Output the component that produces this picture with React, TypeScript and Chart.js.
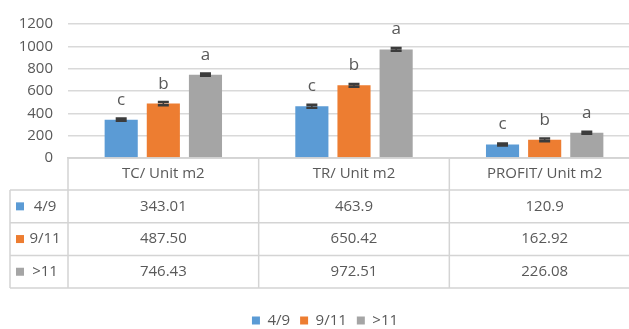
import React, { useEffect, useRef } from "react";
import { Chart, registerables } from "chart.js";

Chart.register(...registerables);

const categories = ["TC/ Unit m2", "TR/ Unit m2", "PROFIT/ Unit m2"];
const seriesNames = ["4/9", "9/11", ">11"];
const text49 = ["343.01", "463.9", "120.9"];
const text911 = ["487.50", "650.42", "162.92"];
const text11 = ["746.43", "972.51", "226.08"];
const err49 = [10, 14, 8];
const err911 = [14, 12, 12];
const err11 = [10, 12, 8];
const letters49 = ["c", "c", "c"];
const letters911 = ["b", "b", "b"];
const letters11 = ["a", "a", "a"];
const yMin = 0;
const yMax = 1200;
const yStep = 200;

const colors = ["#5B9BD5", "#ED7D31", "#A5A5A5"];
const FONT = "'Open Sans', sans-serif";
const TEXT = "#595959";
const LINE = "#d4d4d4";

const tableTexts = [text49, text911, text11];
const errors = [err49, err911, err11];
const letters = [letters49, letters911, letters11];

const overlay = {
  id: "overlay",
  afterLayout(chart: any) {
    const lg = chart.legend;
    if (lg) {
      lg.top += 9;
      lg.bottom += 9;
    }
  },
  afterDatasetsDraw(chart: any) {
    const ctx = chart.ctx;
    const ys = chart.scales.y;
    ctx.save();
    chart.data.datasets.forEach((ds: any, i: number) => {
      const meta = chart.getDatasetMeta(i);
      meta.data.forEach((bar: any, j: number) => {
        const v = ds.data[j];
        const e = errors[i][j];
        const x = bar.x;
        const yT = ys.getPixelForValue(v + e);
        const yB = ys.getPixelForValue(v - e);
        ctx.strokeStyle = "#3c3c3c";
        ctx.lineWidth = 1.5;
        ctx.beginPath();
        ctx.moveTo(x, yT);
        ctx.lineTo(x, yB);
        ctx.stroke();
        ctx.lineWidth = 2.5;
        ctx.beginPath();
        ctx.moveTo(x - 5.5, yT);
        ctx.lineTo(x + 5.5, yT);
        ctx.moveTo(x - 5.5, yB);
        ctx.lineTo(x + 5.5, yB);
        ctx.stroke();
        ctx.fillStyle = TEXT;
        ctx.font = `17px ${FONT}`;
        ctx.textAlign = "center";
        ctx.textBaseline = "alphabetic";
        ctx.fillText(letters[i][j], x, ys.getPixelForValue(v) - 15);
      });
    });
    ctx.restore();
  },
  afterDraw(chart: any) {
    const ctx = chart.ctx;
    const { left, right, bottom } = chart.chartArea;
    const catW = (right - left) / categories.length;
    const headerH = 32;
    const rowH = 32.7;
    const tableLeft = 10;
    const lastY = bottom + headerH + rowH * seriesNames.length;
    ctx.save();
    ctx.strokeStyle = LINE;
    ctx.lineWidth = 1.5;
    ctx.beginPath();
    ctx.moveTo(left, bottom);
    ctx.lineTo(right, bottom);
    for (let r = 0; r <= seriesNames.length; r++) {
      const y = bottom + headerH + r * rowH;
      ctx.moveTo(tableLeft, y);
      ctx.lineTo(right, y);
    }
    for (let k = 0; k <= categories.length; k++) {
      const x = left + k * catW;
      ctx.moveTo(x, bottom);
      ctx.lineTo(x, lastY);
    }
    ctx.moveTo(tableLeft, bottom + headerH);
    ctx.lineTo(tableLeft, lastY);
    ctx.stroke();

    ctx.font = `15px ${FONT}`;
    ctx.textBaseline = "middle";
    seriesNames.forEach((name, i) => {
      const cy = bottom + headerH + i * rowH + rowH / 2;
      ctx.fillStyle = colors[i];
      ctx.fillRect(16, cy - 4, 8, 8);
      ctx.fillStyle = TEXT;
      ctx.textAlign = "center";
      ctx.fillText(name, 45, cy);
      tableTexts[i].forEach((t, j) => {
        ctx.fillText(t, left + j * catW + catW / 2, cy);
      });
    });
    ctx.restore();
  },
};

export default function App() {
  const ref = useRef<HTMLCanvasElement>(null);
  useEffect(() => {
    document.body.style.margin = "0";
    document.body.style.overflow = "hidden";
    document.documentElement.style.overflow = "hidden";
    const chart = new Chart(ref.current!, {
      type: "bar",
      data: {
        labels: categories,
        datasets: seriesNames.map((name, i) => ({
          label: name,
          data: tableTexts[i].map(Number),
          backgroundColor: colors[i],
          borderWidth: 0,
          categoryPercentage: 0.663,
          barPercentage: 0.786,
        })),
      },
      options: {
        responsive: false,
        animation: false,
        layout: { padding: { top: 20, left: 10, right: 0, bottom: 0 } },
        plugins: {
          tooltip: { enabled: false },
          legend: {
            position: "bottom",
            labels: {
              boxWidth: 8,
              boxHeight: 8,
              padding: 10,
              color: TEXT,
              font: { family: FONT, size: 15 },
            },
          },
        },
        scales: {
          x: {
            grid: { display: false, drawTicks: false },
            border: { display: true, color: LINE, width: 1.5 },
            ticks: { color: TEXT, font: { family: FONT, size: 15 }, padding: 7 },
            afterFit: (s: any) => {
              s.height = 136;
            },
          },
          y: {
            min: yMin,
            max: yMax,
            ticks: {
              stepSize: yStep,
              color: TEXT,
              font: { family: FONT, size: 15 },
              padding: 15,
              callback: (v: any) => String(v),
            },
            grid: { color: "#d9d9d9", lineWidth: 1.5, drawTicks: false },
            border: { display: false },
            afterFit: (s: any) => {
              s.width = 58;
            },
          },
        },
      },
      plugins: [overlay],
    });
    return () => chart.destroy();
  }, []);
  return (
    <div style={{ width: 640, height: 329 }}>
      <canvas ref={ref} width={640} height={329} style={{ display: "block", width: 640, height: 329 }} />
    </div>
  );
}
